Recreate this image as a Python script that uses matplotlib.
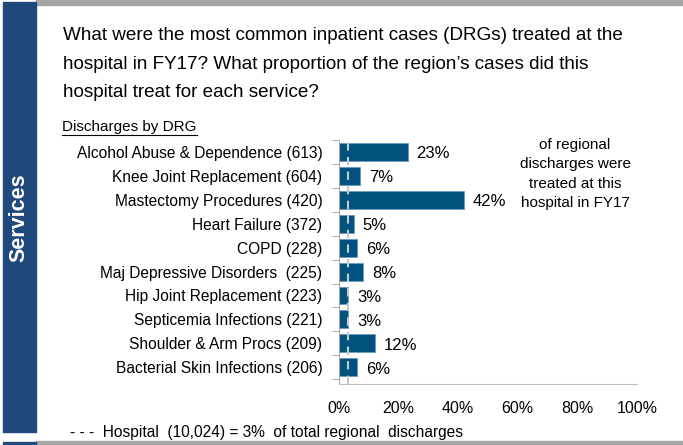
import numpy as np
import matplotlib.pyplot as plt
from matplotlib.patches import Rectangle

plt.rcParams['font.family'] = ['Liberation Sans', 'DejaVu Sans']

# data
categories = ['Alcohol Abuse & Dependence', 'Knee Joint Replacement', 'Mastectomy Procedures',
              'Heart Failure', 'COPD', 'Maj Depressive Disorders ', 'Hip Joint Replacement',
              'Septicemia Infections', 'Shoulder & Arm Procs', 'Bacterial Skin Infections']
discharges = [613, 604, 420, 372, 228, 225, 223, 221, 209, 206]
share_pct = [23, 7, 42, 5, 6, 8, 3, 3, 12, 6]
hospital_pct = 3
xticks = [0, 20, 40, 60, 80, 100]

W, H = 683, 445
fig = plt.figure(figsize=(W / 100, H / 100), dpi=100)

# frame decorations
fig.patches.append(Rectangle((36 / W, 1 - 5 / H), 1 - 36 / W, 5 / H, transform=fig.transFigure,
                             color='#a6a6a6', zorder=0))
fig.patches.append(Rectangle((3 / W, 1 - 432 / H), 33 / W, 430 / H, transform=fig.transFigure,
                             color='#1f497d', zorder=1))
fig.patches.append(Rectangle((36 / W, 0), 1 - 36 / W, 4 / H, transform=fig.transFigure,
                             color='#a6a6a6', zorder=0))
fig.patches.append(Rectangle((3 / W, 0), 33 / W, 3 / H, transform=fig.transFigure,
                             color='#1f497d', zorder=1))
fig.text(19 / W, 1 - 218 / H, 'Services', rotation=90, color='white', fontsize=15.5,
         fontweight='bold', ha='center', va='center')

fig.text(63 / W, 1 - 27 / H,
         'What were the most common inpatient cases (DRGs) treated at the\n'
         'hospital in FY17? What proportion of the region\u2019s cases did this\n'
         'hospital treat for each service?',
         fontsize=13.6, ha='left', va='top', linespacing=1.9)

ax = fig.add_axes([339 / W, 1 - 384 / H, (637 - 339) / W, (384 - 140) / H])
y = np.arange(len(categories))
ax.barh(y, share_pct, height=0.75, color='#02527f', edgecolor='#6b9cc0', linewidth=0.6, zorder=2)
ax.axvline(hospital_pct, color='#c8c8c8', linestyle=(0, (4, 3)), linewidth=1.5, zorder=3)
for yi, v in zip(y, share_pct):
    ax.text(v + 3, yi + 0.08, f'{v}%', va='center', ha='left', fontsize=12)

ax.set_xlim(0, 100)
ax.set_ylim(9.7, -0.5)
ax.set_yticks(y)
ax.set_yticklabels([f'{c} ({d})' for c, d in zip(categories, discharges)], fontsize=11.2)
ax.set_yticks(np.arange(-0.5, 10, 1), minor=True)
ax.tick_params(axis='y', which='major', length=0, pad=12)
ax.tick_params(axis='y', which='minor', length=5, color='#a6a6a6', direction='out')
ax.set_xticks(xticks)
ax.set_xticklabels([f'{t}%' for t in xticks], fontsize=11.5)
ax.tick_params(axis='x', length=0, pad=12)
for s in ['top', 'right']:
    ax.spines[s].set_visible(False)
ax.spines['left'].set_color('#a6a6a6')
ax.spines['bottom'].set_color('#bfbfbf')

fig.text(62 / W, 1 - 127 / H, 'Discharges by DRG', fontsize=11, ha='left', va='center')
fig.add_artist(plt.Line2D([62 / W, 197 / W], [1 - 135 / H, 1 - 135 / H], color='black', linewidth=0.8))

fig.text(575 / W, 1 - 174 / H, 'of regional\ndischarges were\ntreated at this\nhospital in FY17',
         fontsize=11, ha='center', va='center', linespacing=1.5)

fig.text(70 / W, 1 - 432 / H, '- - -  Hospital  (10,024) = 3%  of total regional  discharges',
         fontsize=11.2, ha='left', va='center')

fig.savefig('out.png', dpi=100)
